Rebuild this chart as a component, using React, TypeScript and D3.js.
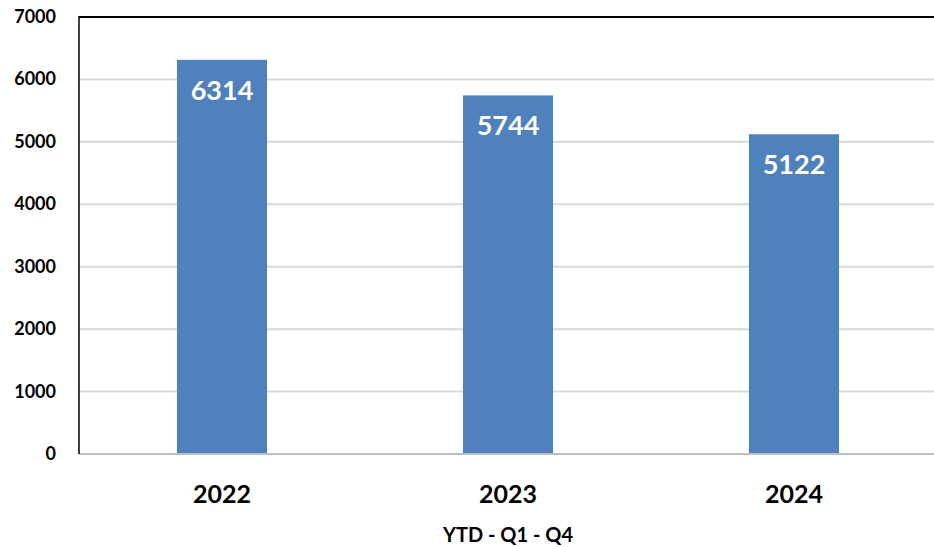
import { useEffect, useRef } from 'react';
import * as d3 from 'd3';

const years = ['2022', '2023', '2024'];
const totals = [6314, 5744, 5122];
const yTicks = [0, 1000, 2000, 3000, 4000, 5000, 6000, 7000];
const axisTitle = 'YTD - Q1 - Q4';

const App = () => {
  const ref = useRef<SVGSVGElement>(null!);

  useEffect(() => {
    const width = 934;
    const height = 547;
    const left = 79;
    const top = 17;
    const bottom = 454;
    const font = 'Lato, "Open Sans", sans-serif';

    const svg = d3.select(ref.current).attr('width', width).attr('height', height);
    svg.selectAll('*').remove();

    const x = d3.scaleBand().domain(years).range([left, left + 3 * 286]).paddingInner(0.685).paddingOuter(0.3425);
    const y = d3.scaleLinear().domain([0, 7000]).range([bottom, top]);

    // gridlines
    svg.append('g')
      .selectAll('line')
      .data(yTicks.filter(t => t > 0 && t < 7000))
      .enter()
      .append('line')
      .attr('x1', left)
      .attr('x2', width)
      .attr('y1', d => y(d))
      .attr('y2', d => y(d))
      .attr('stroke', '#d9d9d9')
      .attr('stroke-width', 2);

    // bars
    svg.append('g')
      .selectAll('rect')
      .data(totals)
      .enter()
      .append('rect')
      .attr('x', (_, i) => x(years[i])!)
      .attr('y', d => y(d))
      .attr('width', x.bandwidth())
      .attr('height', d => bottom - y(d))
      .attr('fill', '#4f81bd');

    // value labels
    svg.append('g')
      .selectAll('text')
      .data(totals)
      .enter()
      .append('text')
      .attr('x', (_, i) => x(years[i])! + x.bandwidth() / 2)
      .attr('y', d => y(d) + 40)
      .attr('text-anchor', 'middle')
      .attr('fill', '#fff')
      .attr('font-family', font)
      .attr('font-weight', 'bold')
      .attr('font-size', 27)
      .text(d => d);

    // axes lines
    svg.append('line').attr('x1', left).attr('x2', width).attr('y1', bottom).attr('y2', bottom)
      .attr('stroke', '#bfbfbf').attr('stroke-width', 2);
    svg.append('line').attr('x1', left).attr('x2', width).attr('y1', top).attr('y2', top)
      .attr('stroke', '#000').attr('stroke-width', 2);
    svg.append('line').attr('x1', left).attr('x2', left).attr('y1', top - 1).attr('y2', bottom)
      .attr('stroke', '#000').attr('stroke-width', 1.5);

    // y tick labels
    svg.append('g')
      .selectAll('text')
      .data(yTicks)
      .enter()
      .append('text')
      .attr('x', 56)
      .attr('y', d => y(d) + 6)
      .attr('text-anchor', 'end')
      .attr('font-family', font)
      .attr('font-weight', 'bold')
      .attr('font-size', 18)
      .text(d => d);

    // x labels
    svg.append('g')
      .selectAll('text')
      .data(years)
      .enter()
      .append('text')
      .attr('x', d => x(d)! + x.bandwidth() / 2)
      .attr('y', 503)
      .attr('text-anchor', 'middle')
      .attr('font-family', font)
      .attr('font-weight', 'bold')
      .attr('font-size', 25)
      .text(d => d);

    svg.append('text')
      .attr('x', x('2023')! + x.bandwidth() / 2)
      .attr('y', 542)
      .attr('text-anchor', 'middle')
      .attr('font-family', font)
      .attr('font-weight', 'bold')
      .attr('font-size', 20)
      .text(axisTitle);
  }, []);

  return <svg ref={ref} style={{ position: 'absolute', left: 0, top: 0 }}></svg>;
};

export default App;
